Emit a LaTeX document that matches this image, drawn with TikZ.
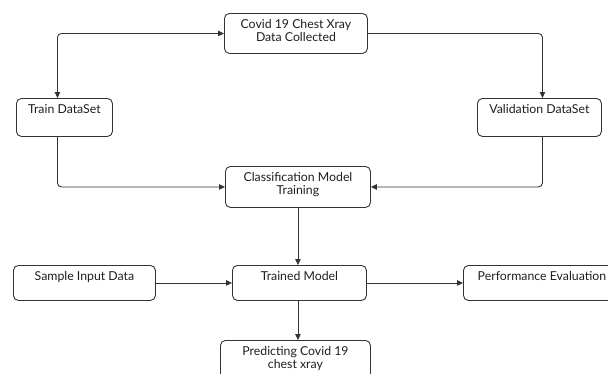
\documentclass[tikz,border=0pt]{standalone}
\usepackage{fontspec}
\setmainfont{Lato}
\usetikzlibrary{arrows.meta}
\definecolor{linec}{HTML}{333333}
\definecolor{textc}{HTML}{1f1f1f}
\newcommand{\bxt}[3]{\parbox[c][#2][t]{#1}{\centering\rule{0pt}{15pt}#3}}
\begin{document}
\begin{tikzpicture}[x=1pt,y=-1pt,
  box/.style={draw=linec, line width=0.9pt, rounded corners=5pt, inner sep=0pt, anchor=north west, text=textc, font=\fontsize{12.3}{12.8}\selectfont},
  conn/.style={draw=linec, line width=0.9pt, rounded corners=4pt, -{Triangle[length=6pt,width=5.5pt]}},
  conn2/.style={draw=linec, line width=0.9pt, rounded corners=4pt, {Triangle[length=6pt,width=5.5pt]}-{Triangle[length=6pt,width=5.5pt]}}]
\useasboundingbox (0,0) rectangle (608,373);
\clip (0,0) rectangle (608,373);
\fill[white] (0,0) rectangle (608,373);
\node[box] (cov) at (224,13) {\bxt{143pt}{40pt}{Covid 19 Chest Xray\\Data Collected}};
\node[box] (train) at (16,98) {\bxt{96pt}{38pt}{Train DataSet}};
\node[box] (val) at (477,98) {\bxt{124pt}{38pt}{Validation DataSet}};
\node[box] (cls) at (225,166) {\bxt{145pt}{41pt}{Classification Model\\Training}};
\node[box] (smp) at (13,265) {\bxt{142pt}{35pt}{Sample Input Data}};
\node[box] (trm) at (232,265) {\bxt{134pt}{35pt}{Trained Model}};
\node[box] (perf) at (463,265) {\bxt{157pt}{35pt}{Performance Evaluation}};
\node[box] (pred) at (220,340) {\bxt{150pt}{45pt}{Predicting Covid 19\\chest xray}};
\draw[conn2] (cov.west) -| ([xshift=-7pt]train.north);
\draw[conn] (cov.east) -| ([xshift=3pt]val.north);
\draw[conn] ([xshift=-7pt]train.south) |- (cls.west);
\draw[conn] ([xshift=3pt]val.south) |- (cls.east);
\draw[conn] (cls.south) -- (cls.south |- trm.north);
\draw[conn] (smp.east) -- (trm.west);
\draw[conn] (trm.east) -- (perf.west);
\draw[conn] (cls.south |- trm.south) -- (cls.south |- pred.north);
\end{tikzpicture}
\end{document}
